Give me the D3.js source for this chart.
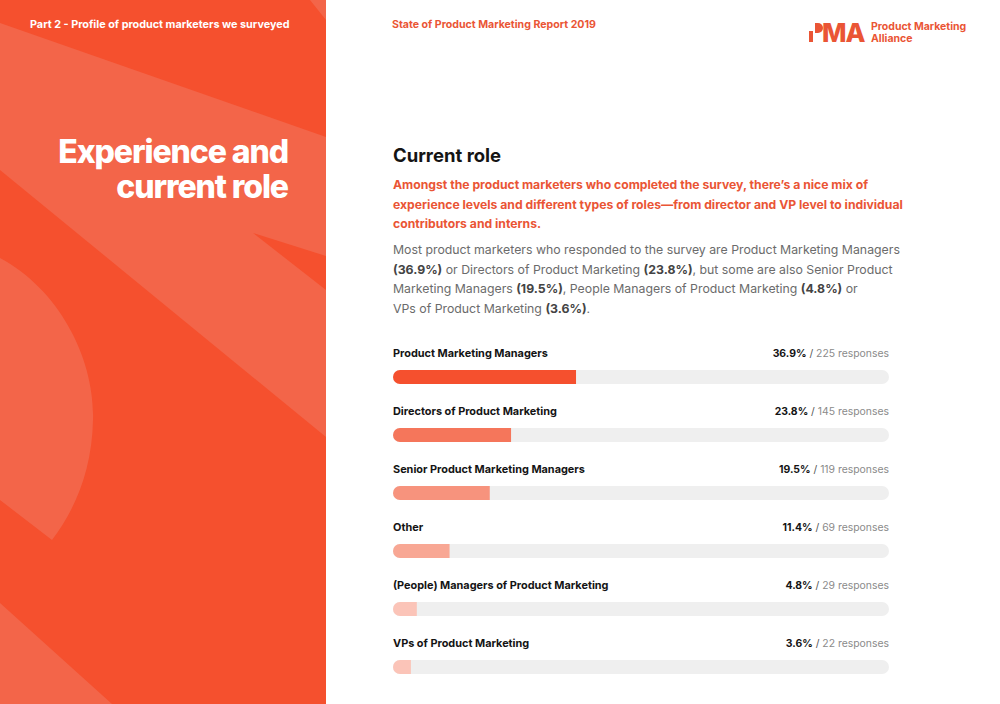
<!DOCTYPE html>
<html>
<head>
<meta charset="utf-8">
<script src="https://cdn.jsdelivr.net/npm/d3@7"></script>
<style>
  html, body { margin: 0; padding: 0; background: #fff; }
  svg { display: block; font-family: Inter, "Noto Sans", sans-serif; }
</style>
</head>
<body>
<div id="chart"></div>
<script>
// roles, share of respondents (%) and response counts
var roles = [
    'Product Marketing Managers',
    'Directors of Product Marketing',
    'Senior Product Marketing Managers',
    'Other',
    '(People) Managers of Product Marketing',
    'VPs of Product Marketing'
];
var shares = [36.9, 23.8, 19.5, 11.4, 4.8, 3.6];
var responses = [225, 145, 119, 69, 29, 22];

var width = 1000;
var height = 704;
var panelWidth = 326;
var orange = '#f5502e';
var orangeLight = '#f36549';
var textOrange = '#ea5535';

var svg = d3.select('#chart').append('svg')
    .attr('width', width)
    .attr('height', height);

// left panel with the soft shapes
var panel = svg.append('g');
panel.append('rect')
    .attr('width', panelWidth).attr('height', height)
    .attr('fill', orange);
var shapes = [
    'M0,23 L326,137 L326,437 L0,170 Z',
    'M310,0 L326,0 L326,20 Z',
    'M0,258 C60,290 95,360 93,420 C92,470 75,510 52,540 L0,500 Z',
    'M0,603 L112,704 L0,704 Z'
];
panel.selectAll('path.shape')
    .data(shapes)
    .enter()
    .append('path')
    .attr('class', 'shape')
    .attr('d', function (d) { return d; })
    .attr('fill', orangeLight);
// dark notch inside the big band
panel.append('path')
    .attr('d', 'M253,233 L326,256 L326,290 Z')
    .attr('fill', orange);

panel.append('text')
    .attr('x', 30).attr('y', 28)
    .attr('fill', '#fff')
    .attr('font-size', 10.8)
    .attr('font-weight', 700)
    .text('Part 2 - Profile of product marketers we surveyed');

// two-line section title, one text element
panel.append('text')
    .attr('class', 'title')
    .attr('text-anchor', 'end')
    .attr('fill', '#fff')
    .attr('font-size', 32)
    .attr('font-weight', 800)
    .attr('letter-spacing', -1.1)
    .selectAll('tspan')
    .data(['Experience and', 'current role'])
    .enter()
    .append('tspan')
    .attr('x', 288)
    .attr('y', function (d, i) { return 163 + i * 35; })
    .text(function (d) { return d; });

// header on the right
svg.append('text')
    .attr('x', 392).attr('y', 28)
    .attr('fill', textOrange)
    .attr('font-size', 10.6)
    .attr('font-weight', 700)
    .text('State of Product Marketing Report 2019');

var logo = svg.append('g').attr('fill', textOrange);
logo.append('rect').attr('x', 809).attr('y', 31).attr('width', 4).attr('height', 11);
logo.append('path').attr('d', 'M815,23 L818,23 A5,5 0 0 1 818,33 L815,33 Z');
logo.append('text')
    .attr('x', 822).attr('y', 42)
    .attr('font-size', 26).attr('font-weight', 800)
    .attr('letter-spacing', -1)
    .text('MA');
logo.append('text')
    .attr('font-size', 10.5)
    .attr('font-weight', 700)
    .selectAll('tspan')
    .data(['Product Marketing', 'Alliance'])
    .enter()
    .append('tspan')
    .attr('x', 871)
    .attr('y', function (d, i) { return 30 + i * 12; })
    .text(function (d) { return d; });

// headline and copy
svg.append('text')
    .attr('x', 393).attr('y', 162)
    .attr('fill', '#141414')
    .attr('font-size', 18.5)
    .attr('font-weight', 700)
    .text('Current role');

var intro = [
    'Amongst the product marketers who completed the survey, there\u2019s a nice mix of',
    'experience levels and different types of roles\u2014from director and VP level to individual',
    'contributors and interns.'
];
svg.selectAll('text.intro')
    .data(intro)
    .enter()
    .append('text')
    .attr('class', 'intro')
    .attr('x', 393)
    .attr('y', function (d, i) { return 189 + i * 19.5; })
    .attr('fill', textOrange)
    .attr('font-size', 12.2)
    .attr('font-weight', 700)
    .text(function (d) { return d; });

// [text, bold]
var body = [
    [['Most product marketers who responded to the survey are Product Marketing Managers', 0]],
    [['(36.9%)', 1], [' or Directors of Product Marketing ', 0], ['(23.8%)', 1], [', but some are also Senior Product', 0]],
    [['Marketing Managers ', 0], ['(19.5%)', 1], [', People Managers of Product Marketing ', 0], ['(4.8%)', 1], [' or', 0]],
    [['VPs of Product Marketing ', 0], ['(3.6%)', 1], ['.', 0]]
];
var bodyLines = svg.selectAll('text.body')
    .data(body)
    .enter()
    .append('text')
    .attr('class', 'body')
    .attr('x', 393)
    .attr('y', function (d, i) { return 254 + i * 19.7; })
    .attr('font-size', 12.3);
bodyLines.selectAll('tspan')
    .data(function (d) { return d; })
    .enter()
    .append('tspan')
    .attr('fill', function (d) { return d[1] ? '#444' : '#6b6b6b'; })
    .attr('font-weight', function (d) { return d[1] ? 700 : 400; })
    .text(function (d) { return d[0]; });

// bars
var x0 = 393;
var trackWidth = 496;
var barH = 14;
var xScale = d3.scaleLinear().domain([0, 100]).range([0, trackWidth]);
var yScale = d3.scaleBand().domain(roles).range([340, 688]);
var color = d3.scaleOrdinal()
    .domain(roles)
    .range(['#f5502e', '#f5765b', '#f7937d', '#f8a794', '#fbc4b8', '#fbc4b8']);

var rows = svg.selectAll('g.row')
    .data(roles.map(function (r, i) { return {role: r, share: shares[i], responses: responses[i]}; }))
    .enter()
    .append('g')
    .attr('class', 'row')
    .attr('transform', function (d) { return 'translate(' + x0 + ',' + yScale(d.role) + ')'; });

rows.append('text')
    .attr('y', 17)
    .attr('fill', '#141414')
    .attr('font-size', 10.9)
    .attr('font-weight', 700)
    .text(function (d) { return d.role; });

var value = rows.append('text')
    .attr('x', trackWidth)
    .attr('y', 17)
    .attr('text-anchor', 'end')
    .attr('font-size', 10.4);
value.append('tspan')
    .attr('fill', '#141414').attr('font-weight', 700)
    .text(function (d) { return d.share + '%'; });
value.append('tspan')
    .attr('fill', '#555')
    .text(' / ');
value.append('tspan')
    .attr('fill', '#8a8a8a')
    .text(function (d) { return d.responses + ' responses'; });

rows.append('rect')
    .attr('y', 30)
    .attr('width', trackWidth)
    .attr('height', barH)
    .attr('rx', barH / 2)
    .attr('fill', '#efefef');

rows.append('path')
    .attr('fill', function (d) { return color(d.role); })
    .attr('d', function (d) {
        var w = xScale(d.share);
        var r = barH / 2;
        return 'M' + r + ',30 L' + w + ',30 L' + w + ',' + (30 + barH) +
            ' L' + r + ',' + (30 + barH) + ' A' + r + ',' + r + ' 0 0 1 ' + r + ',30 Z';
    });
</script>
</body>
</html>
